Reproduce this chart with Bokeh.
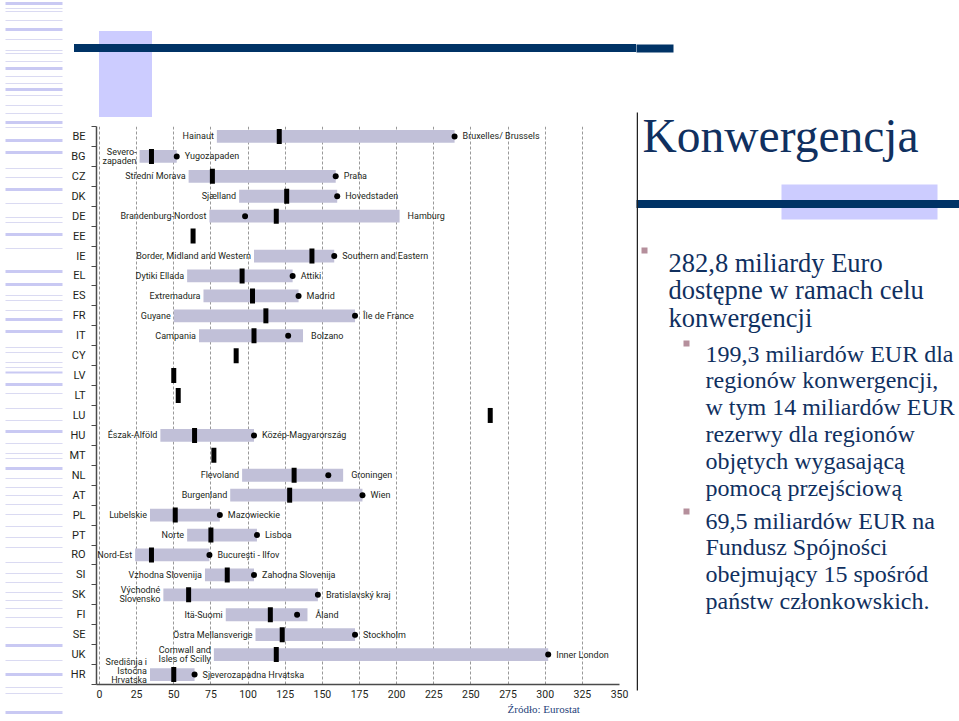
from bokeh.plotting import figure
from bokeh.layouts import row, column
from bokeh.models import ColumnDataSource, Range1d, FixedTicker, Title, Div
from bokeh.core.properties import value
from bokeh.embed import file_html
from bokeh.resources import INLINE

# ---------------- data ----------------
countries = ["BE", "BG", "CZ", "DK", "DE", "EE", "IE", "EL", "ES", "FR", "IT", "CY", "LV", "LT",
             "LU", "HU", "MT", "NL", "AT", "PL", "PT", "RO", "SI", "SK", "FI", "SE", "UK", "HR"]
national_avg = [121, 35, 76, 126, 119, 63, 143, 96, 103, 112, 104, 92, 50, 53,
                263, 64, 77, 131, 128, 51, 75, 35, 86, 60, 115, 123, 119, 50]
region_min = [79, 27, 60, 94, 74, None, 104, 59, 70, 50, 67, None, None, None,
              None, 41, None, 96, 88, 34, 59, 24, 71, 43, 85, 105, 77, 34]
region_max = [239, 52, 159, 160, 202, None, 158, 130, 134, 172, 137, None, None, None,
              None, 104, None, 164, 177, 81, 106, 74, 104, 147, 140, 172, 302, 64]
capital_region = [239, 52, 159, 160, 98, None, 158, 130, 134, 172, 127, None, None, None,
                  None, 104, None, 154, 177, 81, 106, 74, 104, 147, 133, 172, 302, 64]
min_region_names = ["Hainaut", "Severo-\nzapaden", "Střední Morava", "Sjælland", "Brandenburg-Nordost", "",
                    "Border, Midland and Western", "Dytiki Ellada", "Extremadura", "Guyane", "Campania",
                    "", "", "", "", "Észak-Alföld", "", "Flevoland", "Burgenland", "Lubelskie", "Norte",
                    "Nord-Est", "Vzhodna Slovenija", "Východné\nSlovensko", "Itä-Suomi", "Östra Mellansverige",
                    "Cornwall and\nIsles of Scilly", "Središnja i\nIstočna\nHrvatska"]
max_region_names = ["Bruxelles/ Brussels", "Yugozapaden", "Praha", "Hovedstaden", "Hamburg", "",
                    "Southern and Eastern", "Attiki", "Madrid", "Île de France", "Bolzano",
                    "", "", "", "", "Közép-Magyarország", "", "Groningen", "Wien", "Mazowieckie", "Lisboa",
                    "București - Ilfov", "Zahodna Slovenija", "Bratislavský kraj", "Åland", "Stockholm",
                    "Inner London", "Sjeverozapadna Hrvatska"]
x_ticks = [0, 25, 50, 75, 100, 125, 150, 175, 200, 225, 250, 275, 300, 325, 350]

title_text = "Konwergencja"
level1_lines = ["282,8 miliardy Euro", "dostępne w ramach celu", "konwergencji"]
level2a_lines = ["199,3 miliardów EUR dla", "regionów konwergencji,", "w tym 14 miliardów EUR",
                 "rezerwy dla regionów", "objętych wygasającą", "pomocą przejściową"]
level2b_lines = ["69,5 miliardów EUR na", "Fundusz Spójności", "obejmujący 15 spośród",
                 "państw członkowskich."]
source_text = "Źródło: Eurostat"

# ---------------- styling / layout ----------------
H = 716
X_STRIPE, X_CHART, X_TEXT, X_END = 0, 66, 636, 959
TOP_H = 120
FRAME_L, FRAME_R, FRAME_T, FRAME_B = 92, 619, 126, 684
X_MIN, X_MAX = -2, 350
SANS = "Roboto"
SERIF = "Liberation Serif"
NAVY = "#003366"
TXT_NAVY = "#10305f"
LAV = "#ccccff"
BAR = "#c1c0d8"
DARK = "#231f20"
BULLET = "#b58f9c"


def blank(x0, x1, y0, y1):
    f = figure(width=x1 - x0, height=y1 - y0, x_range=Range1d(x0, x1), y_range=Range1d(y1, y0),
               output_backend="svg", toolbar_location=None, min_border=0,
               x_axis_location=None, y_axis_location=None)
    f.grid.visible = False
    f.outline_line_color = None
    f.background_fill_color = "white"
    f.border_fill_color = "white"
    return f


# ---------------- chart ----------------
n = len(countries)
idx = list(range(n))
bar_rows = [i for i in idx if region_min[i] is not None]


def block_shift(txt):
    # lift three-line labels slightly, as in the original figure
    return -3.5 * max(0, txt.count("\n") - 1)


bars = ColumnDataSource(dict(
    y=bar_rows,
    lo=[region_min[i] for i in bar_rows],
    hi=[region_max[i] for i in bar_rows],
    cap=[capital_region[i] for i in bar_rows],
    rx=[max(region_max[i], capital_region[i]) for i in bar_rows],
    lname=[min_region_names[i] for i in bar_rows],
    rname=[max_region_names[i] for i in bar_rows],
    lshift=[block_shift(min_region_names[i]) for i in bar_rows],
))
avg_src = ColumnDataSource(dict(y=idx, avg=national_avg))

CH_Y0 = TOP_H
p = figure(width=X_TEXT - X_CHART, height=H - CH_Y0, x_range=Range1d(X_MIN, X_MAX),
           y_range=Range1d(n - 0.5, -0.5),
           output_backend="svg", toolbar_location=None,
           min_border_left=FRAME_L - X_CHART, min_border_right=X_TEXT - FRAME_R,
           min_border_top=FRAME_T - CH_Y0, min_border_bottom=H - FRAME_B)
p.outline_line_color = None
p.background_fill_color = "white"
p.border_fill_color = "white"

p.ygrid.visible = False
p.xgrid.grid_line_color = "#999999"
p.xgrid.grid_line_dash = "3 2"
p.xgrid.grid_line_width = 1

p.xaxis.ticker = FixedTicker(ticks=x_ticks, minor_ticks=[])
p.xaxis.major_tick_in = 0
p.xaxis.major_tick_out = 0
p.xaxis.axis_line_color = "#4a4a4a"
p.xaxis.axis_line_width = 1.5
p.xaxis.major_label_text_font = SANS
p.xaxis.major_label_text_font_size = "10.5px"
p.xaxis.major_label_text_color = DARK
p.xaxis.major_label_standoff = 5

p.yaxis.ticker = FixedTicker(ticks=idx, minor_ticks=[i - 0.5 for i in range(n + 1)])
p.yaxis.major_label_overrides = {i: c for i, c in zip(idx, countries)}
p.yaxis.major_tick_in = 0
p.yaxis.major_tick_out = 0
p.yaxis.minor_tick_in = 0
p.yaxis.minor_tick_out = 5
p.yaxis.minor_tick_line_color = "#4a4a4a"
p.yaxis.axis_line_color = "#4a4a4a"
p.yaxis.axis_line_width = 1.5
p.yaxis.major_label_text_font = SANS
p.yaxis.major_label_text_font_size = "11px"
p.yaxis.major_label_text_color = DARK
p.yaxis.major_label_standoff = 6

p.hbar(y="y", left="lo", right="hi", height=0.64, source=bars, fill_color=BAR, line_color=None)
p.scatter(x="cap", y="y", size=6, source=bars, fill_color="black", line_color=None)
p.rect(x="avg", y="y", width=5, height=15, width_units="screen", height_units="screen",
       source=avg_src, fill_color="black", line_color=None)
p.text(x="lo", y="y", text="lname", source=bars, text_align="right", text_baseline="middle",
       x_offset=-3, y_offset="lshift", text_font=value(SANS), text_font_size="9px", text_color=DARK,
       text_line_height=0.9)
p.text(x="rx", y="y", text="rname", source=bars, text_align="left", text_baseline="middle",
       x_offset=8, text_font=value(SANS), text_font_size="9px", text_color=DARK, text_line_height=0.9)

src_title = Title(text=source_text, align="left", offset=503 - FRAME_L, standoff=0,
                  text_font=SERIF, text_font_size="11px", text_font_style="normal", text_color="#1f3f7a")
p.add_layout(src_title, "below")

# ---------------- decorations: stripe column ----------------
stripe_y = [3, 8, 11, 20, 29, 39, 50, 53, 61, 68, 76, 83, 89, 95, 105, 113, 122, 127, 140, 152, 168, 177, 189,
            203, 217, 222, 234, 248, 271, 284, 295, 300, 310, 319, 331, 347, 352, 362, 367, 372, 384, 393,
            408, 420, 431, 443, 453, 458, 468, 478, 487, 495, 504, 514, 526, 537, 547, 562, 573, 582,
            592, 600, 608, 617, 627, 645, 660, 674, 687, 693, 712]
stripe_w = [3, 1, 1, 1, 3, 1, 1, 1, 1, 3, 1, 1, 3, 1, 1, 1, 3, 1, 3, 3, 1, 1, 3,
            1, 1, 1, 3, 1, 3, 3, 1, 1, 1, 3, 3, 1, 1, 1, 1, 2, 3, 1,
            1, 1, 3, 1, 1, 1, 3, 1, 1, 1, 1, 1, 1, 1, 1, 1, 1, 1,
            1, 1, 1, 1, 1, 3, 1, 3, 1, 1, 3]
s = blank(X_STRIPE, X_CHART, 0, H)
s.quad(left=[5] * len(stripe_y), right=[62] * len(stripe_y),
       top=[yy - ww / 2 for yy, ww in zip(stripe_y, stripe_w)],
       bottom=[yy + ww / 2 for yy, ww in zip(stripe_y, stripe_w)],
       fill_color=["#c9c9f3" if ww > 1 else "#dadaf2" for ww in stripe_w], line_color=None)


# ---------------- decorations above chart (plain HTML block, no text) ----------------
def abs_box(x0, x1, y0, y1, color):
    return (f'<div style="position:absolute;left:{x0 - X_CHART}px;top:{y0}px;'
            f'width:{x1 - x0}px;height:{y1 - y0}px;background:{color};"></div>')


top_html = (f'<div style="position:relative;width:{X_TEXT - X_CHART}px;height:{TOP_H}px;'
            f'overflow:hidden;background:white;margin:0;padding:0;">'
            + abs_box(99, 152, 31, 117, LAV)
            + abs_box(74, X_TEXT + 4, 44, 52, NAVY)
            + '</div>')
t = Div(text=top_html, width=X_TEXT - X_CHART, height=TOP_H, margin=0)

# ---------------- right text panel ----------------
r = blank(X_TEXT, X_END, 0, H)
r.quad(left=[X_TEXT - 3], right=[673], top=[44], bottom=[52], fill_color=NAVY, line_color=None)
r.quad(left=[781], right=[937], top=[184], bottom=[219], fill_color=LAV, line_color=None)
r.quad(left=[X_TEXT - 3], right=[X_END + 3], top=[199.5], bottom=[207.5], fill_color=NAVY, line_color=None)
r.quad(left=[636], right=[637.5], top=[112], bottom=[690], fill_color="#222222", line_color=None)
r.quad(left=[641, 683, 683], right=[647, 689, 689], top=[247, 340, 508], bottom=[253, 346, 514],
       fill_color=BULLET, line_color=None)

r.text(x=[642], y=[135], text=[title_text], text_font=value(SERIF), text_font_size="47.5px",
       text_color=TXT_NAVY, text_baseline="alphabetic")
r.text(x=[668] * len(level1_lines), y=[262 + k * 27.5 for k in range(len(level1_lines))],
       text=level1_lines, text_font=value(SERIF), text_font_size="26.5px",
       text_color=TXT_NAVY, text_baseline="alphabetic")
r.text(x=[705] * len(level2a_lines), y=[353 + k * 26.8 for k in range(len(level2a_lines))],
       text=level2a_lines, text_font=value(SERIF), text_font_size="24px",
       text_color=TXT_NAVY, text_baseline="alphabetic")
r.text(x=[705] * len(level2b_lines), y=[520 + k * 26.7 for k in range(len(level2b_lines))],
       text=level2b_lines, text_font=value(SERIF), text_font_size="24px",
       text_color=TXT_NAVY, text_baseline="alphabetic")

layout = row(s, column(t, p), r)
open("out.html", "w").write(file_html(layout, INLINE))
